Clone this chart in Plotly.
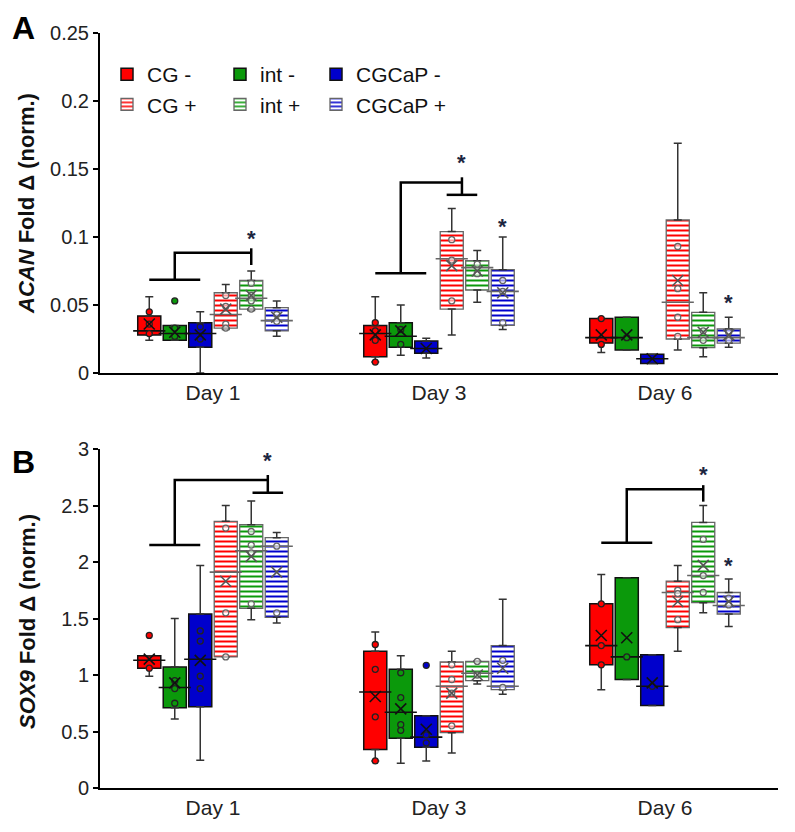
import plotly.graph_objects as go

# ---------------- data ----------------
GROUPS = ['CG -', 'int -', 'CGCaP -', 'CG +', 'int +', 'CGCaP +']
DAYS = ['Day 1', 'Day 3', 'Day 6']
COLORS = ['#ff0000', '#0b990b', '#0000cc', '#ff0000', '#0b990b', '#0000cc']
SOLID = [True, True, True, False, False, False]

# ACAN (rows = groups, columns = days)
ACAN_LOW = [[0.024, 0.008, 0.015], [0.024, 0.013, 0.017], [0.0, 0.011, 0.007],
            [0.032, 0.028, 0.017], [0.046, 0.052, 0.012], [0.027, 0.032, 0.019]]
ACAN_Q1 = [[0.028, 0.012, 0.022], [0.024, 0.019, 0.017], [0.019, 0.0145, 0.007],
           [0.033, 0.047, 0.025], [0.047, 0.061, 0.0186], [0.031, 0.035, 0.022]]
ACAN_MED = [[0.031, 0.029, 0.026], [0.029, 0.027, 0.026], [0.029, 0.018, 0.0105],
            [0.043, 0.084, 0.052], [0.055, 0.0775, 0.026], [0.0385, 0.060, 0.026]]
ACAN_Q3 = [[0.042, 0.035, 0.040], [0.035, 0.037, 0.041], [0.037, 0.0235, 0.0137],
           [0.059, 0.104, 0.1125], [0.068, 0.0826, 0.0446], [0.048, 0.076, 0.0324]]
ACAN_UP = [[0.056, 0.056, 0.040], [0.035, 0.050, 0.041], [0.045, 0.0255, 0.0137],
           [0.065, 0.121, 0.169], [0.075, 0.090, 0.059], [0.053, 0.100, 0.041]]
ACAN_MEAN = [[0.036, 0.028, 0.028], [0.030, 0.031, 0.028], [0.028, 0.018, 0.0105],
             [0.047, 0.079, 0.068], [0.057, 0.075, 0.030], [0.041, 0.059, 0.028]]
ACAN_PTS = [
    [[0.045, 0.036, 0.029], [0.037, 0.031, 0.024, 0.008], [0.040, 0.021]],
    [[0.033, 0.027, 0.053], [0.032, 0.021], [0.026]],
    [[0.034, 0.025], [], []],
    [[0.057, 0.049, 0.036, 0.033], [0.098, 0.083, 0.053], [0.093, 0.062, 0.041, 0.027]],
    [[0.066, 0.057, 0.053, 0.047], [0.080, 0.073], [0.031, 0.024]],
    [[0.043, 0.038], [0.068, 0.060, 0.037], [0.030, 0.024]],
]

# SOX9 (rows = groups, columns = days)
SOX9_LOW = [[0.99, 0.24, 0.87], [0.61, 0.22, 0.96], [0.245, 0.24, 0.73],
            [1.16, 0.31, 1.21], [1.49, 0.92, 1.55], [1.46, 0.83, 1.43]]
SOX9_Q1 = [[1.06, 0.34, 1.09], [0.71, 0.44, 0.96], [0.72, 0.36, 0.73],
           [1.16, 0.49, 1.42], [1.59, 0.95, 1.64], [1.51, 0.87, 1.54]]
SOX9_MED = [[1.13, 0.85, 1.26], [0.89, 0.67, 1.16], [1.14, 0.45, 0.90],
            [1.91, 0.90, 1.73], [2.10, 1.015, 1.88], [2.14, 0.90, 1.615]]
SOX9_Q3 = [[1.17, 1.21, 1.63], [1.07, 1.05, 1.86], [1.54, 0.64, 1.18],
           [2.36, 1.115, 1.83], [2.33, 1.12, 2.35], [2.215, 1.26, 1.73]]
SOX9_UP = [[1.17, 1.38, 1.89], [1.50, 1.17, 1.86], [1.97, 0.64, 1.18],
           [2.50, 1.21, 1.97], [2.54, 1.125, 2.50], [2.26, 1.67, 1.85]]
SOX9_MEAN = [[1.14, 0.81, 1.35], [0.93, 0.70, 1.33], [1.13, 0.52, 0.93],
             [1.83, 0.84, 1.65], [2.05, 1.00, 1.97], [1.91, 1.06, 1.65]]
SOX9_PTS = [
    [[1.06, 1.35], [1.27, 1.05, 0.63, 0.24], [1.63, 1.26, 1.09]],
    [[0.95, 0.88, 0.75], [1.02, 0.80, 0.56, 0.51], [1.16]],
    [[1.39, 1.30, 0.99, 0.88], [0.47, 0.40, 1.086], [0.90]],
    [[2.30, 1.55, 1.16], [1.09, 0.96, 0.84, 0.55], [1.75, 1.72, 1.49]],
    [[2.27, 2.15, 2.08, 1.63], [1.12, 1.00], [2.20, 1.88, 1.73]],
    [[2.14, 1.55], [1.13, 0.89], [1.62, 1.68]],
]

# significance brackets: (day, base y, top y, target group, tick top, tick bottom, sub-bracket groups)
ACAN_BRACKETS = [(0, 0.0686, 0.0885, 4.0, 0.0917, 0.0794, None),
                 (1, 0.0733, 0.140, 3.4, 0.1439, 0.131, (2.8, 4.0))]
SOX9_BRACKETS = [(0, 2.15, 2.726, 4.65, 2.77, 2.613, (4.05, 5.25)),
                 (2, 2.171, 2.643, 4.0, 2.68, 2.534, None)]
# stars: (day, group position, y)
ACAN_STARS = [(0, 4.0, 0.099), (1, 3.4, 0.155), (1, 5.0, 0.108), (2, 5.0, 0.0517)]
SOX9_STARS = [(0, 4.65, 2.90), (2, 4.0, 2.776), (2, 5.0, 1.965)]

# ---------------- layout constants ----------------
FONT = 'Liberation Sans, Arial, sans-serif'
SLOT = 0.1128
BOX_W = 0.102
LEGEND_OF = ['legend', 'legend2', 'legend3', 'legend', 'legend2', 'legend3']
PAGE_OFF = 8                       # default body margin of the html page
W, H = 795 - PAGE_OFF, 832 - PAGE_OFF
AX_L, AX_R, AX_T, AX_B = 100, 778, 33, 788   # page-pixel extent of plotting area
ML = AX_L - PAGE_OFF
MR = W - (AX_R - PAGE_OFF)
MT = AX_T - PAGE_OFF
MB = H - (AX_B - PAGE_OFF)
PW, PH = AX_R - AX_L, AX_B - AX_T


def px_x(px):
    return (px - AX_L) / PW


def px_y(py):
    return (AX_B - py) / PH


def gpos(day, g):
    return day + (g - 2.5) * SLOT


fig = go.Figure()


def add_panel(xa, ya, low, q1, med, q3, up, mean, pts, brackets, stars, show_legend):
    ndays = len(DAYS)
    for g, name in enumerate(GROUPS):
        xs = [gpos(d, g) for d in range(ndays)]
        col = COLORS[g]
        edge = '#111111' if SOLID[g] else '#666666'
        if SOLID[g]:
            marker = dict(color=col, line=dict(color=edge, width=1.5))
        else:
            marker = dict(color='white',
                          pattern=dict(shape='-', fgcolor=col, bgcolor='white',
                                       size=5, solidity=0.4, fillmode='replace'),
                          line=dict(color=edge, width=1.3))
        fig.add_trace(go.Bar(
            x=xs, y=[q3[g][d] - q1[g][d] for d in range(ndays)], base=q1[g],
            width=BOX_W, marker=marker, name=name, showlegend=show_legend,
            legend=LEGEND_OF[g], xaxis=xa, yaxis=ya, hoverinfo='skip'))
        # whiskers with caps
        fig.add_trace(go.Scatter(
            x=xs, y=q3[g], mode='markers', marker=dict(size=1, opacity=0),
            error_y=dict(type='data', symmetric=False,
                         array=[up[g][d] - q3[g][d] for d in range(ndays)],
                         arrayminus=[0] * ndays, width=4, thickness=1.5, color='#333333'),
            showlegend=False, xaxis=xa, yaxis=ya, hoverinfo='skip'))
        fig.add_trace(go.Scatter(
            x=xs, y=q1[g], mode='markers', marker=dict(size=1, opacity=0),
            error_y=dict(type='data', symmetric=False, array=[0] * ndays,
                         arrayminus=[q1[g][d] - low[g][d] for d in range(ndays)],
                         width=4, thickness=1.5, color='#333333'),
            showlegend=False, xaxis=xa, yaxis=ya, hoverinfo='skip'))
        # median
        fig.add_trace(go.Scatter(
            x=xs, y=med[g], mode='markers',
            marker=dict(symbol='line-ew', size=23, line=dict(width=1.6, color=edge)),
            showlegend=False, xaxis=xa, yaxis=ya, hoverinfo='skip'))
        # data points
        px_, py_ = [], []
        for d in range(ndays):
            for v in pts[g][d]:
                px_.append(xs[d])
                py_.append(v)
        fig.add_trace(go.Scatter(
            x=px_, y=py_, mode='markers',
            marker=dict(symbol='circle', size=6,
                        color=col if SOLID[g] else 'rgba(255,255,255,0.6)',
                        line=dict(width=1.3, color='#222222' if SOLID[g] else '#666666')),
            showlegend=False, xaxis=xa, yaxis=ya, hoverinfo='skip'))
        # mean
        fig.add_trace(go.Scatter(
            x=xs, y=mean[g], mode='markers',
            marker=dict(symbol='x-thin', size=11,
                        line=dict(width=1.6, color='#111111' if SOLID[g] else '#555555')),
            showlegend=False, xaxis=xa, yaxis=ya, hoverinfo='skip'))

    # brackets
    bx, by = [], []
    for day, yb, yt, tgt, ttop, tbot, sub in brackets:
        bx += [gpos(day, 0), gpos(day, 2), None]
        by += [yb, yb, None]
        bx += [gpos(day, 1), gpos(day, 1), gpos(day, tgt), None]
        by += [yb, yt, yt, None]
        bx += [gpos(day, tgt), gpos(day, tgt), None]
        by += [ttop, tbot, None]
        if sub is not None:
            bx += [gpos(day, sub[0]), gpos(day, sub[1]), None]
            by += [tbot, tbot, None]
    fig.add_trace(go.Scatter(x=bx, y=by, mode='lines', line=dict(color='black', width=2.5),
                             showlegend=False, xaxis=xa, yaxis=ya, hoverinfo='skip'))
    for day, g, yv in stars:
        fig.add_annotation(x=gpos(day, g), y=yv, xref=xa, yref=ya, text='<b>*</b>',
                           showarrow=False, yshift=0, xanchor='center', yanchor='middle',
                           font=dict(size=22, color='#1c2541', family=FONT))


add_panel('x', 'y', ACAN_LOW, ACAN_Q1, ACAN_MED, ACAN_Q3, ACAN_UP, ACAN_MEAN, ACAN_PTS,
          ACAN_BRACKETS, ACAN_STARS, True)
add_panel('x2', 'y2', SOX9_LOW, SOX9_Q1, SOX9_MED, SOX9_Q3, SOX9_UP, SOX9_MEAN, SOX9_PTS,
          SOX9_BRACKETS, SOX9_STARS, False)

axis_x = dict(range=[-0.5, 2.5], tickvals=list(range(len(DAYS))), ticktext=DAYS,
              showline=True, linecolor='black', linewidth=2, ticks='', showgrid=False,
              zeroline=False, tickfont=dict(size=21, color='#222222', family=FONT), fixedrange=True)
axis_y = dict(showline=True, linecolor='black', linewidth=2, ticks='outside', ticklen=5,
              tickwidth=2, tickcolor='black', showgrid=False, zeroline=False,
              tickfont=dict(size=20, color='#222222', family=FONT), fixedrange=True)

legend_common = dict(orientation='v', yanchor='top', xanchor='left', y=px_y(54),
                     font=dict(size=21, color='#111111', family=FONT), bgcolor='rgba(0,0,0,0)',
                     itemclick=False, itemdoubleclick=False, tracegroupgap=0)

fig.update_layout(
    width=W, height=H, margin=dict(l=ML, r=MR, t=MT, b=MB),
    plot_bgcolor='white', paper_bgcolor='white', barmode='overlay',
    font=dict(family=FONT),
    xaxis=dict(axis_x, domain=[0, 1], anchor='y'),
    yaxis=dict(axis_y, domain=[px_y(373), 1], range=[0, 0.25], dtick=0.05, anchor='x'),
    xaxis2=dict(axis_x, domain=[0, 1], anchor='y2'),
    yaxis2=dict(axis_y, domain=[0, px_y(449)], range=[0, 3], dtick=0.5, anchor='x2'),
    legend=dict(legend_common, x=px_x(107)),
    legend2=dict(legend_common, x=px_x(220)),
    legend3=dict(legend_common, x=px_x(316)),
)

# axis titles and panel letters
fig.add_annotation(x=px_x(27), y=px_y(204), xref='paper', yref='paper', showarrow=False,
                   xanchor='center', yanchor='middle',
                   text='<b><i>ACAN</i> Fold Δ (norm.)</b>', textangle=-90,
                   font=dict(size=22, color='#111111', family=FONT))
fig.add_annotation(x=px_x(27), y=px_y(622), xref='paper', yref='paper', showarrow=False,
                   xanchor='center', yanchor='middle',
                   text='<b><i>SOX9</i> Fold Δ (norm.)</b>', textangle=-90,
                   font=dict(size=22, color='#111111', family=FONT))
fig.add_annotation(x=px_x(23), y=px_y(28), xref='paper', yref='paper', showarrow=False,
                   xanchor='center', yanchor='middle',
                   text='<b>A</b>', font=dict(size=32, color='black', family=FONT))
fig.add_annotation(x=px_x(23), y=px_y(462), xref='paper', yref='paper', showarrow=False,
                   xanchor='center', yanchor='middle',
                   text='<b>B</b>', font=dict(size=32, color='black', family=FONT))

fig.write_html('out.html')
